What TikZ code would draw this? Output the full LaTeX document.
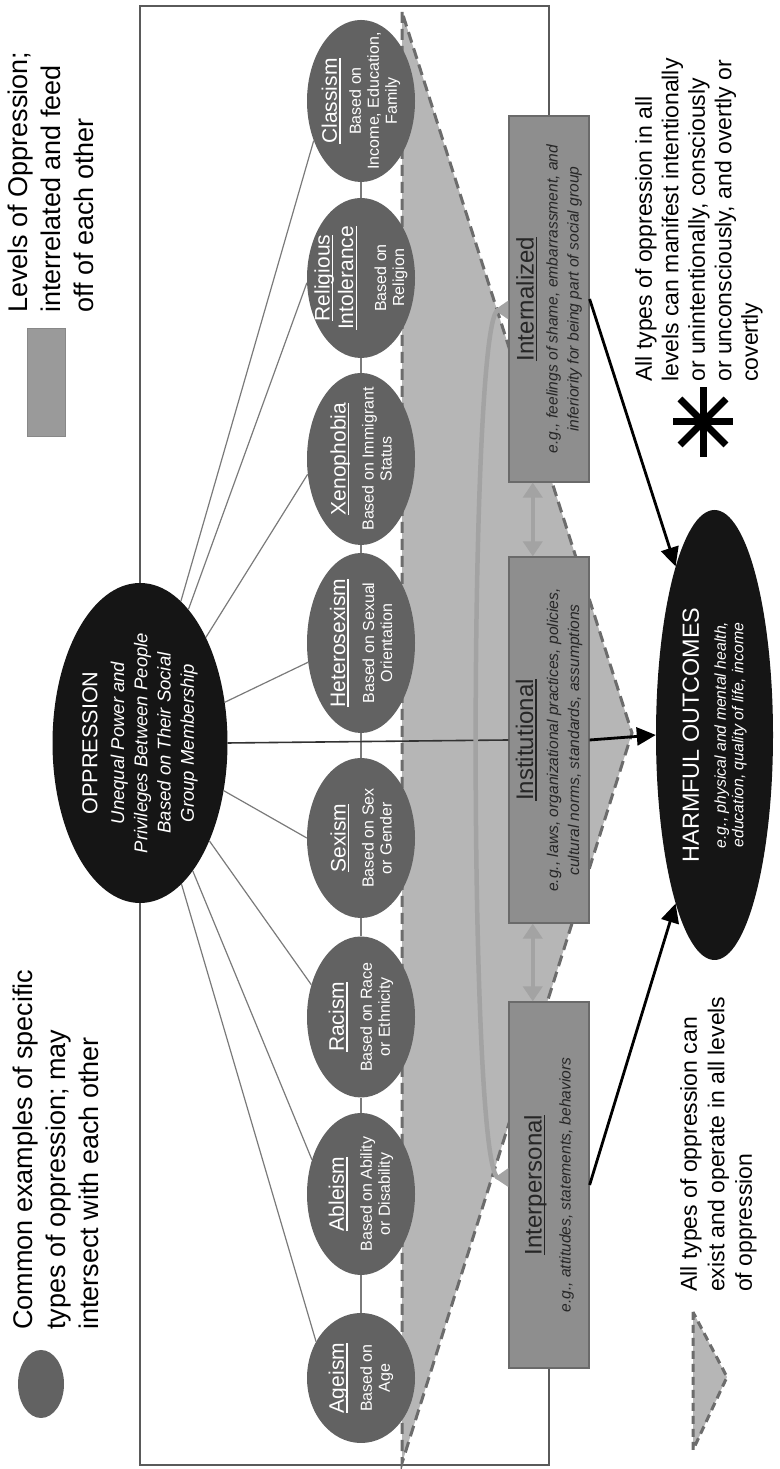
\documentclass[tikz,border=0pt]{standalone}
\usepackage{fontspec}
\setmainfont{Liberation Sans}
\newsavebox\ulsave
\newcommand\uline[1]{\sbox\ulsave{#1}\leavevmode\rlap{\vrule width\wd\ulsave height -2.4pt depth 3.8pt}\usebox\ulsave}
\usetikzlibrary{shapes.geometric,arrows.meta,calc,backgrounds}
\definecolor{ellgray}{HTML}{626262}
\definecolor{darkfill}{HTML}{151515}
\definecolor{boxfill}{HTML}{8E8E8E}
\definecolor{boxline}{HTML}{6A6A6A}
\definecolor{trifill}{HTML}{B6B6B6}
\definecolor{tridash}{HTML}{6C6C6C}
\definecolor{arcgray}{HTML}{A3A3A3}
\definecolor{linegray}{HTML}{7A7A7A}
\definecolor{framegray}{HTML}{5A5A5A}
\definecolor{boxtext}{HTML}{262626}
\definecolor{legrect}{HTML}{9A9A9A}
\definecolor{legrectline}{HTML}{888888}
\newcommand\fsz[2]{\fontsize{#1}{#2}\selectfont}
\begin{document}
\begin{tikzpicture}[x=1pt,y=1pt]
\tikzset{
 gell/.style={ellipse, fill=ellgray, minimum height=108pt, inner sep=0pt},
 elltext/.style={shape=rectangle, fill=none, draw=none, minimum size=0pt, text=white, align=center, font=\fsz{16}{18}, inner sep=0pt},
 darkell/.style={ellipse, fill=darkfill, inner sep=0pt},
 darktext/.style={shape=rectangle, fill=none, draw=none, minimum size=0pt, text=white, align=center, inner sep=0pt},
 levelbox/.style={rectangle, fill=boxfill, draw=boxline, line width=1.2pt, minimum width=366pt, minimum height=80pt, inner sep=0pt, align=center, text=boxtext, font=\fsz{15.6}{21}\itshape},
 spoke/.style={draw=linegray, line width=1.2pt},
 chainl/.style={draw=linegray, line width=1.6pt},
 framel/.style={draw=framegray, line width=1.3pt},
 bigarrow/.style={draw=black, line width=2.8pt, -{Triangle[length=19pt,width=18pt]}},
 grayarrow/.style={draw=arcgray, line width=4.5pt, {Triangle[length=15pt,width=19pt]}-{Triangle[length=15pt,width=19pt]}},
 arcarr/.style={draw=arcgray, line width=4.5pt, {Triangle[reversed,length=14pt,width=18pt]}-{Triangle[reversed,length=14pt,width=18pt]}},
 legtext/.style={align=left, inner sep=0pt, text=black},
}
\begin{scope}[rotate=90, transform shape]
\useasboundingbox (0,0) rectangle (1469,-779);
% big level triangle
\fill[trifill] (1457,-402) -- (6,-402) -- (736,-632) -- cycle;
\draw[tridash, line width=3pt, dash pattern=on 11pt off 6pt] (1457,-402) -- (6,-402) -- (736,-632) -- cycle;

% oppression types
\node[gell, minimum width=130pt, label={[elltext]center:{{\fsz{21}{21}\uline{Ageism}}\\[10pt]Based on\\Age}}] (age) at (91,-361) {};
\node[gell, minimum width=162pt, label={[elltext]center:{{\fsz{21}{21}\uline{Ableism}}\\[10pt]Based on Ability\\or Disability}}] (abl) at (275,-361) {};
\node[gell, minimum width=161pt, label={[elltext]center:{{\fsz{21}{21}\uline{Racism}}\\[10pt]Based on Race\\or Ethnicity}}] (rac) at (452,-361) {};
\node[gell, minimum width=160pt, label={[elltext]center:{{\fsz{21}{21}\uline{Sexism}}\\[10pt]Based on Sex\\or Gender}}] (sex) at (631,-361) {};
\node[gell, minimum width=180pt, label={[elltext]center:{{\fsz{21}{21}\uline{Heterosexism}}\\[11pt]Based on Sexual\\Orientation}}] (het) at (826,-361) {};
\node[gell, minimum width=172pt, label={[elltext]center:{{\fsz{21}{21}\uline{Xenophobia}}\\[10pt]Based on Immigrant\\Status}}] (xen) at (1010,-361) {};
\node[gell, minimum width=160pt, label={[elltext]center:{{\fsz{21}{21}\uline{Religious}}\\[3pt]{\fsz{21}{21}\uline{Intolerance}}\\[15pt]Based on\\Religion}}] (rel) at (1191,-361) {};
\node[gell, minimum width=162pt, label={[elltext]center:{{\fsz{21}{21}\uline{Classism}}\\[6pt]Based on\\Income, Education,\\Family}}] (cls) at (1368,-361) {};

% central and outcome ellipses
\node[darkell, minimum width=320pt, minimum height=175pt, label={[darktext, font=\fsz{18.5}{23.3}\itshape]center:{{\upshape\fsz{21.6}{22}OPPRESSION}\\[3.5pt]Unequal Power and\\Privileges Between People\\Based on Their Social\\Group Membership}}] (opp) at (726,-140) {};
\node[darkell, minimum width=450pt, minimum height=117pt, label={[darktext, font=\fsz{15.8}{17.5}\itshape]center:{{\upshape\fsz{23.4}{24}HARMFUL OUTCOMES}\\[9.5pt]e.g., physical and mental health,\\education, quality of life, income}}] (harm) at (734,-714.5) {};

% levels
\node[levelbox] (inter) at (284,-549) {{\upshape\fsz{24}{26}\uline{Interpersonal}}\\[8pt]e.g., attitudes, statements, behaviors};
\node[levelbox] (inst) at (729,-549) {{\upshape\fsz{24}{26}\uline{Institutional}}\\[4pt]e.g., laws, organizational practices, policies,\\cultural norms, standards, assumptions};
\node[levelbox] (intz) at (1170,-549) {{\upshape\fsz{24}{26}\uline{Internalized}}\\[3pt]e.g., feelings of shame, embarrassment, and\\inferiority for being part of social group};

% legend
\node[ellipse, fill=ellgray, minimum width=68pt, minimum height=46pt, inner sep=0pt] (legell) at (85,-41) {};
\node[legtext, anchor=north west, font=\fsz{27}{33}] (legelltext) at (139,-12.6) {Common examples of specific\\types of oppression; may\\intersect with each other};
\node[rectangle, fill=legrect, draw=legrectline, line width=0.8pt, minimum width=108pt, minimum height=38pt, inner sep=0pt] (legrectnode) at (1087,-46) {};
\node[legtext, anchor=north west, font=\fsz{27}{33}] (legrecttext) at (1156,-7.6) {Levels of Oppression;\\interrelated and feed\\off of each other};

\fill[trifill] (157,-693) -- (19,-693) -- (92,-727) -- cycle;
\draw[tridash, line width=3pt, dash pattern=on 8pt off 5pt] (157,-693) -- (19,-693) -- (92,-727) -- cycle;
\node[legtext, anchor=north west, font=\fsz{23}{27.5}] (tritext) at (177,-680) {All types of oppression can\\exist and operate in all levels\\of oppression};

\draw[line width=7pt] (1012,-703) -- (1082,-703);
\draw[line width=7pt] (1047,-673) -- (1047,-733);
\draw[line width=7pt] (1024,-726) -- (1070,-680);
\draw[line width=7pt] (1024,-680) -- (1070,-726);
\node[legtext, anchor=north west, font=\fsz{23}{26.5}] (asttext) at (1087,-635) {All types of oppression in all\\levels can manifest intentionally\\or unintentionally, consciously\\or unconsciously, and overtly or\\covertly};

% frame bracket
\begin{scope}[on background layer]
\draw[framel] (inter.west) -- (4,-549) -- (4,-140) -- (1463,-140) -- (1463,-549) -- (intz.east);
\end{scope}

% spokes
\draw[spoke] (opp) -- (age.51);
\draw[spoke] (opp) -- (abl.55);
\draw[spoke] (opp) -- (rac.57);
\draw[spoke] (opp) -- (sex.north);
\draw[spoke] (opp) -- (het.110);
\draw[spoke] (opp) -- (xen.106);
\draw[spoke] (opp) -- (rel.95);
\draw[spoke] (opp) -- (cls.130);
% chain
\draw[chainl] (age.east) -- (abl.west);
\draw[chainl] (abl.east) -- (rac.west);
\draw[chainl] (rac.east) -- (sex.west);
\draw[chainl] (sex.east) -- (het.west);
\draw[chainl] (het.east) -- (xen.west);
\draw[chainl] (xen.east) -- (rel.west);
\draw[chainl] (rel.east) -- (cls.west);

% central line
\draw[draw=black!80, line width=1.6pt] (opp.south) -- (inst.north);

% level interplay
\draw[grayarrow] ($(intz.south west)!0.7!(intz.north west)$) -- ($(inst.south east)!0.7!(inst.north east)$);
\draw[grayarrow] ($(inst.south west)!0.7!(inst.north west)$) -- ($(inter.south east)!0.7!(inter.north east)$);
\coordinate (arcA) at ($(inter.north west)!0.52!(inter.north east)$);
\coordinate (arcB) at ($(intz.north west)!0.47!(intz.north east)$);
\draw[arcarr] (arcA) .. controls (291,-468) and (1159,-468) .. (arcB);

% outcomes
\draw[bigarrow] (intz.south) -- (harm.13);
\draw[bigarrow] (inst.south) -- (harm.north);
\draw[bigarrow] (inter.south) -- (harm.167);
\end{scope}
\end{tikzpicture}
\end{document}
